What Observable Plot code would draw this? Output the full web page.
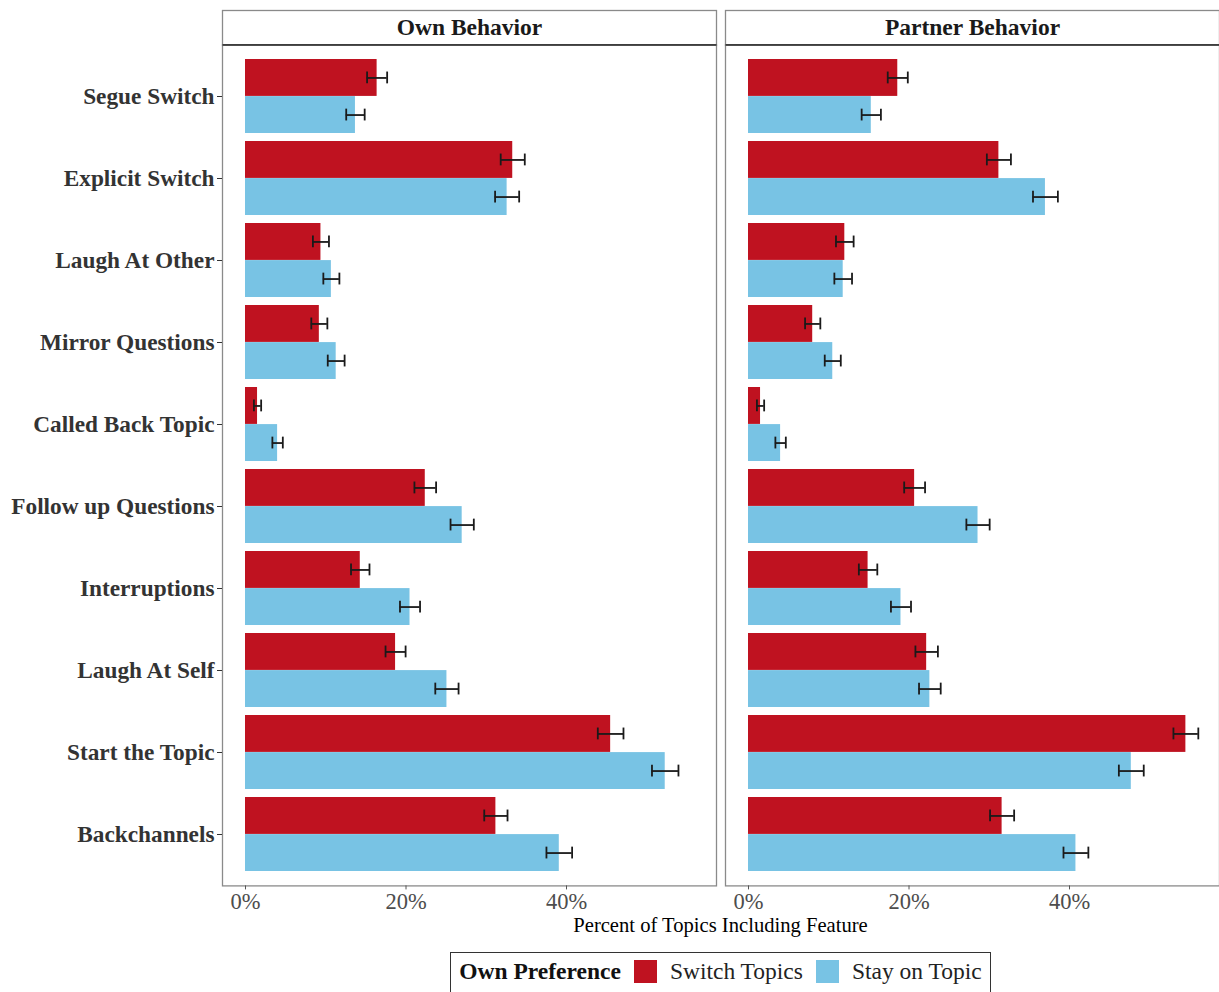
<!DOCTYPE html>
<html>
<head>
<meta charset="utf-8">
<script src="https://cdn.jsdelivr.net/npm/d3@7"></script>
<script src="https://cdn.jsdelivr.net/npm/@observablehq/plot@0.6"></script>
<style>
  body { margin: 0; background: #fff; font-family: "Liberation Serif", serif; }
  #caption { width: 997px; padding-left: 222px; height: 18px; line-height: 18px; text-align: center; font-size: 20.6px; color: #000; }
  #legendwrap { width: 997px; padding-left: 222px; text-align: center; margin-top: 18px; }
  #legend { display: inline-flex; align-items: center; border: 1.5px solid #333; padding: 5px 8px 10px 8px; font-size: 23.5px; color: #222; }
  #legend .sw { width: 23px; height: 23px; display: inline-block; margin: 0 13px; }
</style>
</head>
<body>
<div id="chart"></div>
<div id="caption"></div>
<div id="legendwrap"><div id="legend"></div></div>
<script>
const panels = ["Own Behavior", "Partner Behavior"];
const groups = ["Switch Topics", "Stay on Topic"];
const categories = ["Segue Switch", "Explicit Switch", "Laugh At Other", "Mirror Questions", "Called Back Topic",
  "Follow up Questions", "Interruptions", "Laugh At Self", "Start the Topic", "Backchannels"];

const ownSwitch        = [16.4, 33.3, 9.4, 9.2, 1.5, 22.4, 14.3, 18.7, 45.5, 31.2];
const ownSwitchErr     = [1.25, 1.5, 1.0, 1.0, 0.45, 1.35, 1.15, 1.25, 1.6, 1.45];
const ownStay          = [13.7, 32.6, 10.7, 11.3, 4.0, 27.0, 20.5, 25.1, 52.3, 39.1];
const ownStayErr       = [1.15, 1.5, 1.0, 1.05, 0.65, 1.45, 1.25, 1.45, 1.65, 1.6];
const partnerSwitch    = [18.6, 31.2, 12.0, 8.0, 1.5, 20.7, 14.9, 22.2, 54.5, 31.6];
const partnerSwitchErr = [1.25, 1.5, 1.1, 0.95, 0.45, 1.3, 1.15, 1.4, 1.55, 1.5];
const partnerStay      = [15.3, 37.0, 11.8, 10.5, 4.0, 28.6, 19.0, 22.6, 47.7, 40.8];
const partnerStayErr   = [1.2, 1.55, 1.1, 1.0, 0.65, 1.45, 1.25, 1.35, 1.55, 1.55];

const xTicks = [0, 20, 40];
const xLabel = "Percent of Topics Including Feature";
const legendTitle = "Own Preference";
const colors = ["#BF1220", "#78C3E4"];

const series = [
  [panels[0], groups[0], ownSwitch, ownSwitchErr],
  [panels[0], groups[1], ownStay, ownStayErr],
  [panels[1], groups[0], partnerSwitch, partnerSwitchErr],
  [panels[1], groups[1], partnerStay, partnerStayErr]
];
const rows = [];
for (const [panel, group, vals, errs] of series) {
  categories.forEach((c, i) => rows.push({panel, group, category: c, value: vals[i], lo: vals[i] - errs[i], hi: vals[i] + errs[i]}));
}
const red = rows.filter(d => d.group === groups[0]);
const blue = rows.filter(d => d.group === groups[1]);

const W = 1219, H = 916, mTop = 44.6, mBottom = 30.6, mLeft = 222, mRight = 0;
const panelH = H - mTop - mBottom;
const pInner = 0.1, pOuter = 0.15;
const step = panelH / (categories.length - pInner + 2 * pOuter);
const bw = step * (1 - pInner);
const cap = 12;
const ink = "#1a1a1a";
const ew = 1.8;

const plot = Plot.plot({
  width: W, height: H,
  marginTop: mTop, marginBottom: mBottom, marginLeft: mLeft, marginRight: mRight,
  style: {fontFamily: "Liberation Serif, serif", background: "#fff"},
  fx: {domain: panels, axis: null, paddingInner: 0.018, paddingOuter: 0},
  x: {domain: [-2.866, 58.69], label: null},
  y: {domain: categories, paddingInner: pInner, paddingOuter: pOuter, label: null},
  color: {domain: groups, range: colors},
  marks: [
    Plot.barX(red, {fx: "panel", y: "category", x: "value", fill: "group", insetBottom: bw / 2}),
    Plot.barX(blue, {fx: "panel", y: "category", x: "value", fill: "group", insetTop: bw / 2}),
    Plot.ruleY(red, {fx: "panel", y: "category", x1: "lo", x2: "hi", dy: -bw / 4, stroke: ink, strokeWidth: ew}),
    Plot.ruleY(blue, {fx: "panel", y: "category", x1: "lo", x2: "hi", dy: bw / 4, stroke: ink, strokeWidth: ew}),
    Plot.tickX(red, {fx: "panel", y: "category", x: "lo", insetTop: bw / 4 - cap / 2, insetBottom: 3 * bw / 4 - cap / 2, stroke: ink, strokeWidth: ew}),
    Plot.tickX(red, {fx: "panel", y: "category", x: "hi", insetTop: bw / 4 - cap / 2, insetBottom: 3 * bw / 4 - cap / 2, stroke: ink, strokeWidth: ew}),
    Plot.tickX(blue, {fx: "panel", y: "category", x: "lo", insetTop: 3 * bw / 4 - cap / 2, insetBottom: bw / 4 - cap / 2, stroke: ink, strokeWidth: ew}),
    Plot.tickX(blue, {fx: "panel", y: "category", x: "hi", insetTop: 3 * bw / 4 - cap / 2, insetBottom: bw / 4 - cap / 2, stroke: ink, strokeWidth: ew}),
    Plot.frame({stroke: "#8a8a8a", strokeWidth: 1.3}),
    Plot.frame({stroke: "#8a8a8a", strokeWidth: 1.3, insetTop: -34.6, insetBottom: panelH}),
    Plot.frame({fill: "#333", stroke: null, insetTop: -1, insetBottom: panelH - 0.6}),
    Plot.text(panels, {fx: d => d, text: d => d, frameAnchor: "top", lineAnchor: "middle", dy: -17.3, fontWeight: "bold", fontSize: 23.5, fill: "#1a1a1a"}),
    Plot.axisY({tickSize: 5, tickPadding: 3, fontSize: 23.3, fontWeight: "bold", fill: "#333", stroke: "#333", label: null}),
    Plot.axisX({ticks: xTicks, tickFormat: d => d + "%", tickSize: 4, tickPadding: 3, fontSize: 22.5, fill: "#4d4d4d", stroke: "#555", label: null})
  ]
});
document.getElementById("chart").appendChild(plot);
document.getElementById("caption").textContent = xLabel;

const legend = document.getElementById("legend");
const t = document.createElement("span");
t.textContent = legendTitle; t.style.fontWeight = "bold"; t.style.color = "#111";
legend.appendChild(t);
groups.forEach((g, i) => {
  const sw = document.createElement("span"); sw.className = "sw"; sw.style.background = colors[i];
  legend.appendChild(sw);
  const lab = document.createElement("span"); lab.textContent = g;
  legend.appendChild(lab);
});
</script>
</body>
</html>
